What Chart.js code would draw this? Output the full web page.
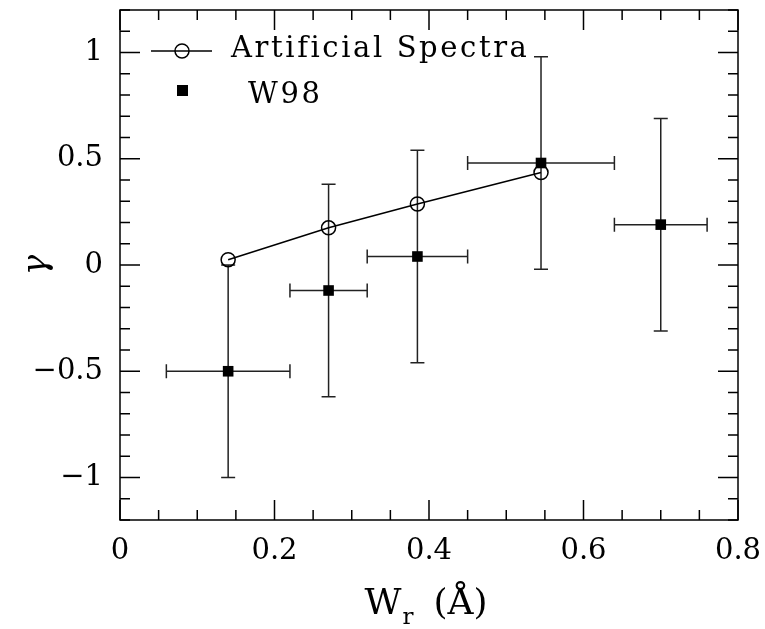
<!DOCTYPE html>
<html>
<head>
<meta charset="utf-8">
<script src="https://cdn.jsdelivr.net/npm/chart.js@4"></script>
<style>
  html, body { margin: 0; padding: 0; background: #fff; }
  #wrap { width: 765px; height: 629px; position: relative; }
</style>
</head>
<body>
<div id="wrap"><canvas id="chart"></canvas></div>
<script>
// === DATA ===
const artX = [0.14, 0.27, 0.385, 0.545];
const artY = [0.025, 0.175, 0.287, 0.435];

const w98X = [0.14, 0.27, 0.385, 0.545, 0.70];
const w98Y = [-0.50, -0.12, 0.04, 0.48, 0.19];
const w98XLow = [0.06, 0.22, 0.32, 0.45, 0.64];
const w98XHigh = [0.22, 0.32, 0.45, 0.64, 0.76];
const w98YErr = [0.5, 0.5, 0.5, 0.5, 0.5];

const xTicks = [0, 0.2, 0.4, 0.6, 0.8];
const yTicks = [-1, -0.5, 0, 0.5, 1];
const xMinorStep = 0.05;
const yMinorStep = 0.1;

const FONT = "'DejaVu Serif', serif";

function fmtTick(v) {
  return v < 0 ? '\u2212' + Math.abs(v) : String(v);
}

// === ERROR BARS (W98) ===
const errorBars = {
  id: 'errorBars',
  beforeDatasetsDraw(chart) {
    const {ctx, scales: {x, y}} = chart;
    const cap = 7;
    ctx.save();
    ctx.strokeStyle = '#222';
    ctx.lineWidth = 1.5;
    w98X.forEach((xv, i) => {
      const px = x.getPixelForValue(xv);
      const py = y.getPixelForValue(w98Y[i]);
      const yTop = y.getPixelForValue(w98Y[i] + w98YErr[i]);
      const yBot = y.getPixelForValue(w98Y[i] - w98YErr[i]);
      const xL = x.getPixelForValue(w98XLow[i]);
      const xR = x.getPixelForValue(w98XHigh[i]);
      ctx.beginPath();
      ctx.moveTo(px, yTop); ctx.lineTo(px, yBot);
      ctx.moveTo(px - cap, yTop); ctx.lineTo(px + cap, yTop);
      ctx.moveTo(px - cap, yBot); ctx.lineTo(px + cap, yBot);
      ctx.moveTo(xL, py); ctx.lineTo(xR, py);
      ctx.moveTo(xL, py - cap); ctx.lineTo(xL, py + cap);
      ctx.moveTo(xR, py - cap); ctx.lineTo(xR, py + cap);
      ctx.stroke();
    });
    ctx.restore();
  }
};

// === FRAME + INWARD TICKS ON ALL SIDES ===
const frameTicks = {
  id: 'frameTicks',
  afterDatasetsDraw(chart) {
    const {ctx, chartArea: a, scales: {x, y}} = chart;
    ctx.save();
    ctx.strokeStyle = '#000';
    ctx.lineWidth = 1.5;
    ctx.strokeRect(a.left, a.top, a.right - a.left, a.bottom - a.top);
    ctx.beginPath();
    for (let k = Math.ceil(x.min / xMinorStep - 1e-6); k <= Math.floor(x.max / xMinorStep + 1e-6); k++) {
      const v = k * xMinorStep;
      const len = xTicks.some(t => Math.abs(t - v) < 1e-6) ? 20 : 10;
      const px = x.getPixelForValue(v);
      ctx.moveTo(px, a.bottom); ctx.lineTo(px, a.bottom - len);
      ctx.moveTo(px, a.top); ctx.lineTo(px, a.top + len);
    }
    for (let k = Math.ceil(y.min / yMinorStep - 1e-6); k <= Math.floor(y.max / yMinorStep + 1e-6); k++) {
      const v = k * yMinorStep;
      const len = yTicks.some(t => Math.abs(t - v) < 1e-6) ? 20 : 10;
      const py = y.getPixelForValue(v);
      ctx.moveTo(a.left, py); ctx.lineTo(a.left + len, py);
      ctx.moveTo(a.right, py); ctx.lineTo(a.right - len, py);
    }
    ctx.stroke();
    ctx.restore();
  }
};

// === LEGEND (inside, top left) + X TITLE ===
const legendAndTitle = {
  id: 'legendAndTitle',
  afterDraw(chart) {
    const {ctx, chartArea: a} = chart;
    ctx.save();
    ctx.strokeStyle = '#000';
    ctx.lineWidth = 1.5;

    // entry 1: line + open circle
    const ly1 = a.top + 41;
    ctx.beginPath();
    ctx.fillStyle = '#fff';
    ctx.arc(a.left + 62, ly1, 7, 0, Math.PI * 2);
    ctx.fill();
    ctx.stroke();
    ctx.beginPath();
    ctx.moveTo(a.left + 31, ly1); ctx.lineTo(a.left + 92, ly1);
    ctx.stroke();

    ctx.fillStyle = '#000';
    ctx.font = "29px " + FONT;
    ctx.textBaseline = 'alphabetic';
    ctx.textAlign = 'left';
    ctx.letterSpacing = '2.6px';
    ctx.fillText('Artificial Spectra', a.left + 111, a.top + 47);

    // entry 2: filled square
    ctx.fillRect(a.left + 57, a.top + 75, 11, 11);
    ctx.fillText('W98', a.left + 128, a.top + 93);
    ctx.letterSpacing = '0px';

    // x axis title: W_r (Å)
    const big = "36px " + FONT, small = "23px " + FONT;
    ctx.font = big;  const wW = ctx.measureText('W').width;
    ctx.font = small; const wr = ctx.measureText('r').width;
    ctx.font = big;  const wA = ctx.measureText('(Å)').width;
    const gap = 20;
    const total = wW + 1 + wr + gap + wA;
    let x0 = (a.left + a.right) / 2 - 3 - total / 2;
    const base = 614;
    ctx.font = big; ctx.fillText('W', x0, base);
    x0 += wW + 1;
    ctx.font = small; ctx.fillText('r', x0, base + 10);
    x0 += wr + gap;
    ctx.font = big; ctx.fillText('(Å)', x0, base);
    ctx.restore();
  }
};

new Chart(document.getElementById('chart'), {
  type: 'scatter',
  data: {
    datasets: [
      {
        label: 'Artificial Spectra',
        data: artX.map((v, i) => ({x: v, y: artY[i]})),
        showLine: true,
        borderColor: '#000',
        borderWidth: 1.5,
        pointStyle: 'circle',
        pointRadius: 7,
        pointBorderWidth: 1.5,
        pointBorderColor: '#000',
        pointBackgroundColor: 'rgba(0,0,0,0)'
      },
      {
        label: 'W98',
        data: w98X.map((v, i) => ({x: v, y: w98Y[i]})),
        pointStyle: 'rect',
        pointRadius: 7.5,
        pointBorderWidth: 0,
        pointBackgroundColor: '#000',
        pointBorderColor: '#000'
      }
    ]
  },
  options: {
    responsive: true,
    maintainAspectRatio: false,
    animation: false,
    layout: { padding: { top: 10, right: 27, left: 0, bottom: 0 } },
    plugins: {
      legend: { display: false },
      tooltip: { enabled: false }
    },
    scales: {
      x: {
        type: 'linear',
        min: 0,
        max: 0.8,
        grid: { display: false, drawTicks: false },
        border: { display: false },
        afterBuildTicks: s => { s.ticks = xTicks.map(v => ({value: v})); },
        afterFit: s => { s.height = 109; s.paddingLeft = 0; s.paddingRight = 0; },
        ticks: {
          font: { family: FONT, size: 29 },
          color: '#000',
          padding: 14,
          maxRotation: 0,
          autoSkip: false,
          callback: v => fmtTick(v)
        }
      },
      y: {
        type: 'linear',
        min: -1.2,
        max: 1.2,
        grid: { display: false, drawTicks: false },
        border: { display: false },
        afterBuildTicks: s => { s.ticks = yTicks.map(v => ({value: v})); },
        afterFit: s => { s.width = 120; s.paddingTop = 0; s.paddingBottom = 0; },
        ticks: {
          font: { family: FONT, size: 29 },
          color: '#000',
          padding: 17,
          autoSkip: false,
          callback: v => fmtTick(v)
        },
        title: {
          display: true,
          text: 'γ',
          color: '#000',
          font: { family: FONT, size: 34, style: 'italic' },
          padding: { top: 17, bottom: 0 }
        }
      }
    }
  },
  plugins: [errorBars, frameTicks, legendAndTitle]
});
</script>
</body>
</html>
